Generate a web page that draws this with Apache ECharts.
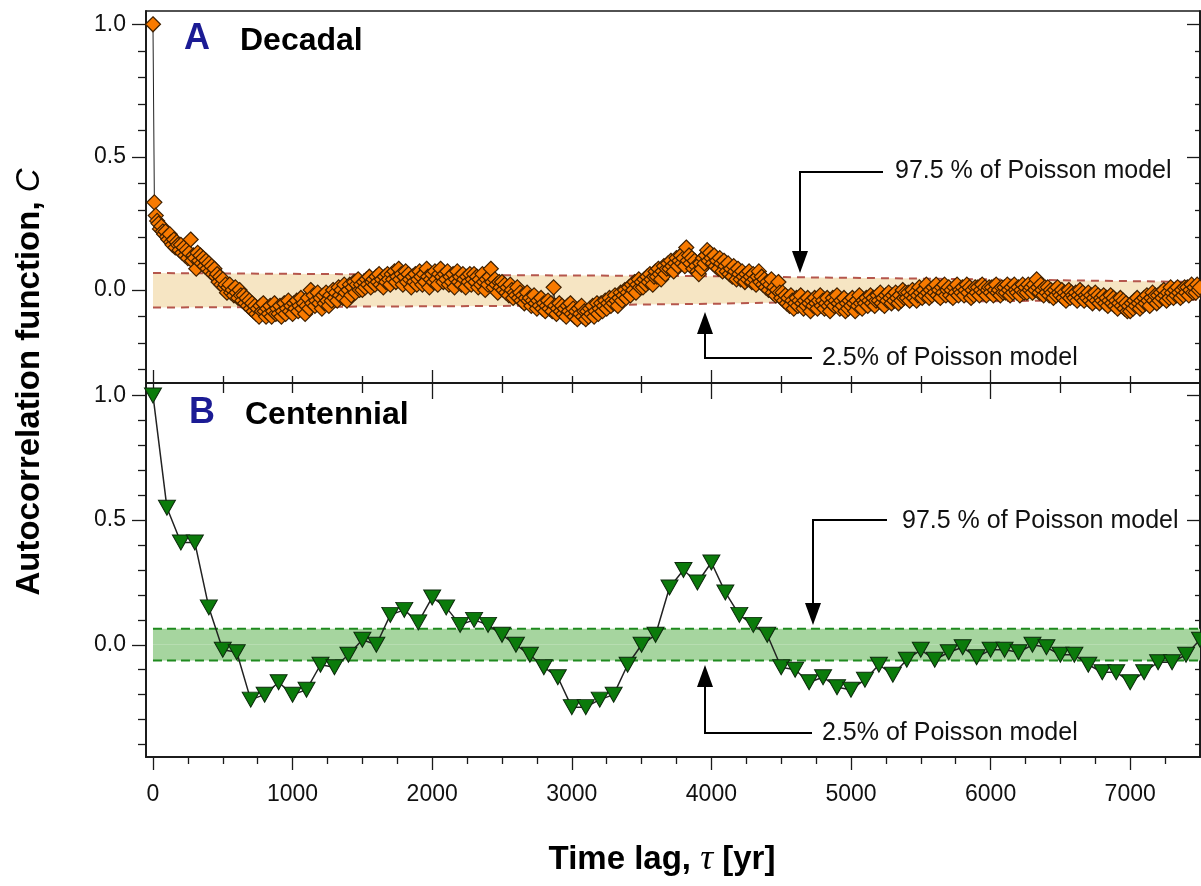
<!DOCTYPE html>
<html>
<head>
<meta charset="utf-8">
<title>Autocorrelation function</title>
<script src="https://cdn.jsdelivr.net/npm/echarts@6/dist/echarts.min.js"></script>
<style>
  html, body { margin: 0; padding: 0; background: #fff; }
  #chart { width: 1201px; height: 886px; }
</style>
</head>
<body>
<div id="chart"></div>
<script>
// lag axis (years)
const X_MIN = -50
const X_MAX = 7500
const DEC_STEP = 10
const CENT_STEP = 100

// panel A: decadal autocorrelation, one value every 10 yr from 0 to 7500
const decadalC = [
  1.00, 0.33, 0.28, 0.26, 0.25, 0.23, 0.24, 0.22, 0.21, 0.22,
  0.20, 0.19, 0.21, 0.18, 0.17, 0.19, 0.16, 0.18, 0.17, 0.15,
  0.17, 0.14, 0.16, 0.13, 0.15, 0.12, 0.14, 0.19, 0.11, 0.13,
  0.12, 0.08, 0.14, 0.11, 0.13, 0.10, 0.12, 0.09, 0.11, 0.08,
  0.10, 0.07, 0.09, 0.06, 0.08, 0.05, 0.06, 0.03, 0.05, 0.02,
  0.04, 0.01, 0.02, -0.01, 0.01, 0.02, -0.01, 0.00, -0.02, 0.01,
  -0.01, -0.03, 0.00, -0.02, -0.04, -0.02, -0.05, -0.03, -0.06, -0.04,
  -0.07, -0.05, -0.08, -0.06, -0.09, -0.07, -0.10, -0.06, -0.08, -0.05,
  -0.08, -0.10, -0.07, -0.09, -0.06, -0.10, -0.08, -0.05, -0.09, -0.07,
  -0.09, -0.06, -0.10, -0.08, -0.05, -0.09, -0.07, -0.04, -0.08, -0.06,
  -0.09, -0.05, -0.07, -0.04, -0.08, -0.06, -0.03, -0.07, -0.05, -0.09,
  -0.06, -0.03, -0.07, 0.00, -0.05, -0.02, -0.06, -0.04, -0.01, -0.05,
  -0.03, -0.07, -0.02, -0.05, -0.01, -0.04, -0.06, -0.02, -0.04, 0.00,
  -0.03, -0.01, -0.04, 0.01, -0.02, 0.00, -0.03, 0.02, -0.01, -0.04,
  0.00, 0.02, -0.02, 0.01, 0.03, -0.01, 0.02, 0.04, 0.00, 0.02,
  0.00, 0.03, 0.01, 0.04, 0.02, 0.05, 0.01, 0.03, 0.04, 0.02,
  0.05, 0.03, 0.06, 0.02, 0.04, 0.01, 0.05, 0.03, 0.06, 0.04,
  0.02, 0.06, 0.04, 0.07, 0.03, 0.05, 0.08, 0.04, 0.06, 0.02,
  0.05, 0.07, 0.03, 0.06, 0.04, 0.01, 0.05, 0.03, 0.06, 0.02,
  0.04, 0.07, 0.05, 0.02, 0.06, 0.03, 0.08, 0.05, 0.01, 0.04,
  0.06, 0.03, 0.07, 0.04, 0.02, 0.06, 0.08, 0.05, 0.03, 0.06,
  0.04, 0.07, 0.02, 0.05, 0.03, 0.06, 0.01, 0.04, 0.07, 0.03,
  0.05, 0.02, 0.06, 0.04, 0.01, 0.05, 0.03, 0.06, 0.02, 0.04,
  0.06, 0.03, 0.05, 0.01, 0.04, 0.02, 0.06, 0.03, 0.00, 0.04,
  0.02, 0.05, 0.08, 0.03, 0.01, 0.04, 0.02, -0.01, 0.03, 0.01,
  0.03, 0.00, 0.02, -0.01, 0.01, -0.02, 0.02, 0.00, -0.03, -0.01,
  -0.02, 0.01, -0.03, -0.01, -0.04, -0.02, -0.05, -0.03, -0.01, -0.04,
  -0.03, -0.06, -0.04, -0.02, -0.05, -0.07, -0.04, -0.06, -0.03, -0.07,
  -0.05, -0.08, -0.06, -0.04, -0.07, -0.05, -0.08, 0.01, -0.06, -0.09,
  -0.07, -0.05, -0.08, -0.06, -0.09, -0.07, -0.10, -0.06, -0.08, -0.05,
  -0.09, -0.07, -0.10, -0.08, -0.11, -0.07, -0.09, -0.06, -0.10, -0.08,
  -0.11, -0.08, -0.10, -0.07, -0.09, -0.06, -0.10, -0.08, -0.05, -0.09,
  -0.07, -0.05, -0.08, -0.06, -0.04, -0.07, -0.05, -0.03, -0.06, -0.04,
  -0.05, -0.02, -0.04, -0.06, -0.03, -0.01, -0.04, -0.02, 0.00, -0.03,
  -0.01, 0.01, -0.02, 0.02, 0.00, 0.03, -0.01, 0.02, 0.04, 0.01,
  0.03, 0.01, 0.04, 0.02, 0.05, 0.03, 0.06, 0.04, 0.02, 0.05,
  0.07, 0.05, 0.08, 0.06, 0.04, 0.07, 0.09, 0.06, 0.08, 0.10,
  0.08, 0.11, 0.09, 0.07, 0.10, 0.12, 0.09, 0.11, 0.13, 0.10,
  0.12, 0.09, 0.16, 0.11, 0.13, 0.10, 0.12, 0.08, 0.11, 0.09,
  0.07, 0.06, 0.10, 0.08, 0.12, 0.10, 0.13, 0.15, 0.11, 0.14,
  0.12, 0.10, 0.13, 0.09, 0.11, 0.08, 0.12, 0.10, 0.07, 0.11,
  0.09, 0.07, 0.10, 0.06, 0.08, 0.05, 0.09, 0.07, 0.04, 0.08,
  0.06, 0.04, 0.07, 0.05, 0.03, 0.06, 0.04, 0.07, 0.05, 0.03,
  0.06, 0.04, 0.02, 0.05, 0.07, 0.03, 0.05, 0.02, 0.04, 0.01,
  0.03, 0.00, 0.02, 0.04, -0.01, 0.01, -0.02, 0.00, 0.03, -0.01,
  -0.03, -0.01, -0.04, -0.02, -0.05, -0.03, -0.06, -0.02, -0.04, -0.07,
  -0.05, -0.03, -0.06, -0.04, -0.02, -0.05, -0.07, -0.04, -0.06, -0.03,
  -0.05, -0.08, -0.04, -0.06, -0.03, -0.05, -0.07, -0.04, -0.02, -0.06,
  -0.04, -0.07, -0.05, -0.03, -0.06, -0.08, -0.05, -0.03, -0.06, -0.04,
  -0.02, -0.05, -0.07, -0.04, -0.06, -0.03, -0.08, -0.05, -0.07, -0.04,
  -0.06, -0.03, -0.05, -0.08, -0.04, -0.06, -0.02, -0.05, -0.07, -0.04,
  -0.05, -0.03, -0.06, -0.04, -0.02, -0.05, -0.03, -0.06, -0.04, -0.02,
  -0.04, -0.01, -0.05, -0.03, -0.06, -0.02, -0.04, -0.01, -0.03, -0.05,
  -0.02, -0.04, -0.01, -0.03, -0.05, -0.02, -0.04, 0.00, -0.03, -0.01,
  -0.03, -0.01, -0.04, -0.02, 0.00, -0.03, -0.01, -0.04, -0.02, 0.01,
  -0.01, -0.03, 0.00, -0.02, 0.02, -0.01, -0.03, 0.00, -0.02, 0.01,
  -0.01, 0.02, -0.02, 0.00, -0.03, 0.01, -0.01, 0.02, -0.02, 0.00,
  0.01, -0.02, 0.00, -0.03, 0.01, -0.01, 0.02, -0.02, 0.00, -0.01,
  0.01, -0.02, 0.00, 0.02, -0.01, 0.01, -0.03, 0.00, -0.02, 0.01,
  -0.01, 0.01, -0.02, 0.00, 0.02, -0.01, 0.01, -0.02, 0.00, 0.01,
  -0.01, 0.01, -0.02, 0.00, 0.02, -0.01, 0.00, -0.02, 0.01, -0.01,
  0.01, -0.01, 0.02, 0.00, -0.02, 0.01, -0.01, 0.02, 0.00, -0.01,
  0.01, -0.02, 0.00, 0.02, -0.01, 0.01, -0.01, 0.02, 0.00, 0.01,
  -0.01, 0.02, 0.00, 0.04, 0.01, -0.01, 0.02, 0.00, -0.02, 0.01,
  -0.01, 0.01, -0.02, 0.00, -0.01, -0.03, 0.00, -0.02, 0.01, -0.01,
  -0.02, 0.00, -0.03, -0.01, -0.04, -0.02, 0.00, -0.03, -0.01, -0.02,
  -0.03, -0.01, -0.04, -0.02, 0.00, -0.03, -0.01, -0.04, -0.02, -0.03,
  -0.01, -0.04, -0.02, -0.05, -0.03, -0.01, -0.04, -0.02, -0.05, -0.03,
  -0.04, -0.02, -0.05, -0.03, -0.06, -0.04, -0.02, -0.05, -0.03, -0.06,
  -0.04, -0.07, -0.05, -0.03, -0.06, -0.04, -0.07, -0.05, -0.08, -0.06,
  -0.08, -0.05, -0.07, -0.04, -0.06, -0.03, -0.05, -0.07, -0.04, -0.06,
  -0.03, -0.05, -0.02, -0.04, -0.06, -0.03, -0.01, -0.04, -0.02, -0.05,
  -0.02, -0.04, -0.01, -0.03, 0.00, -0.02, -0.04, -0.01, -0.03, 0.01,
  -0.01, -0.03, 0.00, -0.02, 0.01, -0.01, -0.03, 0.00, -0.02, 0.01,
  -0.01, 0.01, -0.02, 0.00, 0.02, -0.01, 0.01, -0.01, 0.02, 0.00,
  0.01
]

// panel B: centennial autocorrelation, one value every 100 yr from 0 to 7500
const centennialC = [
  1.00, 0.55, 0.41, 0.41, 0.15, -0.02, -0.03, -0.22, -0.20, -0.15,
  -0.20, -0.18, -0.08, -0.09, -0.04, 0.02, 0.00, 0.12, 0.14, 0.09,
  0.19, 0.15, 0.08, 0.10, 0.08, 0.04, 0.00, -0.04, -0.09, -0.13,
  -0.25, -0.25, -0.22, -0.20, -0.08, 0.00, 0.04, 0.23, 0.30, 0.25,
  0.33, 0.21, 0.12, 0.08, 0.04, -0.09, -0.10, -0.15, -0.13, -0.17,
  -0.18, -0.14, -0.08, -0.12, -0.06, -0.02, -0.06, -0.03, -0.01, -0.05,
  -0.02, -0.02, -0.03, 0.00, -0.01, -0.04, -0.04, -0.08, -0.11, -0.11,
  -0.15, -0.11, -0.07, -0.07, -0.04, 0.02
]

// 2.5 % / 97.5 % envelopes of the Poisson model
const decBandLag = [0, 2500, 4000, 4600, 6000, 7500]
const decBandUpper = [0.064, 0.056, 0.052, 0.048, 0.040, 0.030]
const decBandLower = [-0.066, -0.060, -0.052, -0.046, -0.042, -0.036]
const centBandLag = [0, 7500]
const centBandUpper = [0.064, 0.064]
const centBandLower = [-0.063, -0.063]

// ticks
const yMajorTicks = [0, 0.5, 1]
const yMinorTicksTop = [-0.3, -0.2, -0.1, 0.1, 0.2, 0.3, 0.4, 0.6, 0.7, 0.8, 0.9]
const yMinorTicksBottom = [-0.4, -0.3, -0.2, -0.1, 0.1, 0.2, 0.3, 0.4, 0.6, 0.7, 0.8, 0.9]
const xLabelTicks = [0, 1000, 2000, 3000, 4000, 5000, 6000, 7000]
const xQuarterTicks = [250, 500, 750, 1250, 1500, 1750, 2250, 2500, 2750, 3250, 3500, 3750,
  4250, 4500, 4750, 5250, 5500, 5750, 6250, 6500, 6750, 7250]
const xTwoKTicks = [0, 2000, 4000, 6000]
const xHalfTicks = [500, 1000, 1500, 2500, 3000, 3500, 4500, 5000, 5500, 6500, 7000, 7500]

const INK = '#1a1a1a'
const FONT = 'Liberation Sans, Arial, sans-serif'

const toPairs = (values, step) => values.map((v, i) => [i * step, v])
const zipLag = (lag, values) => lag.map((l, i) => [l, values[i]])

const panelTop = { left: 146, top: 11, width: 1054, height: 372 }
const panelBottom = { left: 146, top: 383, width: 1054, height: 374 }

// every panel gets two identical grids: one carries the long ticks, the other the short ones
const grids = [
  { ...panelTop, show: true, borderColor: INK, borderWidth: 1.5 },
  { ...panelTop, show: false },
  { ...panelBottom, show: true, borderColor: INK, borderWidth: 1.5 },
  { ...panelBottom, show: false }
]

const xAxis = (gridIndex, position, ticks, length, inside, labels) => ({
  type: 'value',
  gridIndex,
  position,
  min: X_MIN,
  max: X_MAX,
  axisLine: { show: true, onZero: false, lineStyle: { color: INK, width: 1.5 } },
  axisTick: { show: true, inside, length, customValues: ticks, lineStyle: { color: INK, width: 1.3 } },
  axisLabel: labels
    ? {
        show: true,
        customValues: labels,
        margin: 26,
        fontSize: 23,
        color: '#111',
        fontFamily: FONT,
        formatter: v => String(v)
      }
    : { show: false },
  splitLine: { show: false }
})

const yAxis = (gridIndex, position, min, ticks, length, inside, labels) => ({
  type: 'value',
  gridIndex,
  position,
  min,
  max: 1.05,
  axisLine: { show: true, onZero: false, lineStyle: { color: INK, width: 1.5 } },
  axisTick: { show: true, inside, length, customValues: ticks, lineStyle: { color: INK, width: 1.3 } },
  axisLabel: labels
    ? {
        show: true,
        customValues: labels,
        margin: 20,
        fontSize: 23,
        color: '#111',
        fontFamily: FONT,
        formatter: v => v.toFixed(1)
      }
    : { show: false },
  splitLine: { show: false }
})

const dashedTop = { color: '#b5564c', width: 2, type: [8, 6] }
const dashedBottom = { color: '#1f8a1f', width: 2, type: [9, 5] }

// band = two area series filled towards C = 0, which always lies inside the envelope
const bandSeries = (name, xIdx, yIdx, lag, values, line, fill) => ({
  name,
  type: 'line',
  xAxisIndex: xIdx,
  yAxisIndex: yIdx,
  data: zipLag(lag, values),
  symbol: 'none',
  lineStyle: line,
  areaStyle: { color: fill, opacity: 1, origin: 0 },
  z: 1
})

const textStyle = (text, x, y, size, weight, color) => ({
  type: 'text',
  x,
  y,
  z: 50,
  style: { text, fontSize: size, fontWeight: weight, fill: color, fontFamily: FONT, verticalAlign: 'middle' }
})

// elbow arrow: from the label end, horizontally to the column, then along it to the tip
const elbowArrow = (xStart, yStart, xCol, yTip, dir) => {
  const headLen = 22
  const half = 8
  const yBase = yTip - dir * headLen
  return [
    {
      type: 'polyline',
      z: 50,
      shape: { points: [[xStart, yStart], [xCol, yStart], [xCol, yBase]] },
      style: { stroke: '#000', lineWidth: 2, fill: null }
    },
    {
      type: 'polygon',
      z: 50,
      shape: { points: [[xCol - half, yBase], [xCol + half, yBase], [xCol, yTip]] },
      style: { fill: '#000' }
    }
  ]
}

const chart = echarts.init(document.getElementById('chart'), null, { renderer: 'canvas' })

chart.setOption({
  animation: false,
  backgroundColor: '#fff',
  grid: grids,
  xAxis: [
    xAxis(0, 'bottom', xTwoKTicks, 13, true),
    xAxis(1, 'bottom', xHalfTicks, 7, true),
    xAxis(2, 'bottom', xLabelTicks, 13, false, xLabelTicks),
    xAxis(2, 'top', xTwoKTicks, 16, true),
    xAxis(3, 'bottom', xQuarterTicks, 7, false),
    xAxis(3, 'top', xHalfTicks, 10, true)
  ],
  yAxis: [
    yAxis(0, 'left', -0.35, yMajorTicks, 14, false, yMajorTicks),
    yAxis(0, 'right', -0.35, yMajorTicks, 13, true),
    yAxis(1, 'left', -0.35, yMinorTicksTop, 8, false),
    yAxis(1, 'right', -0.35, yMinorTicksTop, 5, true),
    yAxis(2, 'left', -0.45, yMajorTicks, 14, false, yMajorTicks),
    yAxis(2, 'right', -0.45, yMajorTicks, 13, true),
    yAxis(3, 'left', -0.45, yMinorTicksBottom, 8, false),
    yAxis(3, 'right', -0.45, yMinorTicksBottom, 5, true)
  ],
  series: [
    bandSeries('decadal 2.5%', 0, 0, decBandLag, decBandLower, dashedTop, '#f6e5c3'),
    bandSeries('decadal 97.5%', 0, 0, decBandLag, decBandUpper, dashedTop, '#f6e5c3'),
    {
      name: 'Decadal',
      type: 'line',
      xAxisIndex: 0,
      yAxisIndex: 0,
      data: toPairs(decadalC, DEC_STEP),
      symbol: 'diamond',
      symbolSize: 15,
      showSymbol: true,
      itemStyle: { color: '#f87a00', borderColor: '#3f2000', borderWidth: 1.2 },
      lineStyle: { color: '#222', width: 1 },
      z: 3
    },
    bandSeries('centennial 2.5%', 2, 4, centBandLag, centBandLower, dashedBottom, '#a6d59f'),
    bandSeries('centennial 97.5%', 2, 4, centBandLag, centBandUpper, dashedBottom, '#a6d59f'),
    {
      name: 'Centennial',
      type: 'line',
      xAxisIndex: 2,
      yAxisIndex: 4,
      data: toPairs(centennialC, CENT_STEP),
      symbol: 'triangle',
      symbolRotate: 180,
      symbolSize: [17, 15],
      showSymbol: true,
      itemStyle: { color: '#0b7b0b', borderColor: '#0d2a0d', borderWidth: 1 },
      lineStyle: { color: '#222', width: 1.5 },
      z: 3
    }
  ],
  graphic: [
    textStyle('A', 184, 39, 36, 'bold', '#1b1b94'),
    textStyle('Decadal', 240, 41, 32, 'bold', '#000'),
    textStyle('B', 189, 413, 36, 'bold', '#1b1b94'),
    textStyle('Centennial', 245, 415, 32, 'bold', '#000'),
    textStyle('97.5 % of Poisson model', 895, 171, 25, 'normal', '#111'),
    textStyle('2.5% of Poisson model', 822, 358, 25, 'normal', '#111'),
    textStyle('97.5 % of Poisson model', 902, 521, 25, 'normal', '#111'),
    textStyle('2.5% of Poisson model', 822, 733, 25, 'normal', '#111'),
    ...elbowArrow(883, 172, 800, 273, 1),
    ...elbowArrow(812, 358, 705, 312, -1),
    ...elbowArrow(887, 520, 813, 625, 1),
    ...elbowArrow(812, 733, 705, 665, -1),
    {
      type: 'text',
      x: 30,
      y: 382,
      rotation: Math.PI / 2,
      z: 50,
      style: {
        text: '{b|Autocorrelation function, }{i|C}',
        align: 'center',
        verticalAlign: 'middle',
        rich: {
          b: { fontSize: 33, fontWeight: 'bold', fontFamily: FONT, fill: '#000' },
          i: { fontSize: 33, fontStyle: 'italic', fontFamily: FONT, fill: '#000' }
        }
      }
    },
    {
      type: 'text',
      x: 662,
      y: 860,
      z: 50,
      style: {
        text: '{b|Time lag, }{t|τ}{b| [yr]}',
        align: 'center',
        verticalAlign: 'middle',
        rich: {
          b: { fontSize: 33, fontWeight: 'bold', fontFamily: FONT, fill: '#000' },
          t: { fontSize: 36, fontStyle: 'italic', fontFamily: 'Liberation Serif, serif', fill: '#000' }
        }
      }
    }
  ]
})
</script>
</body>
</html>
